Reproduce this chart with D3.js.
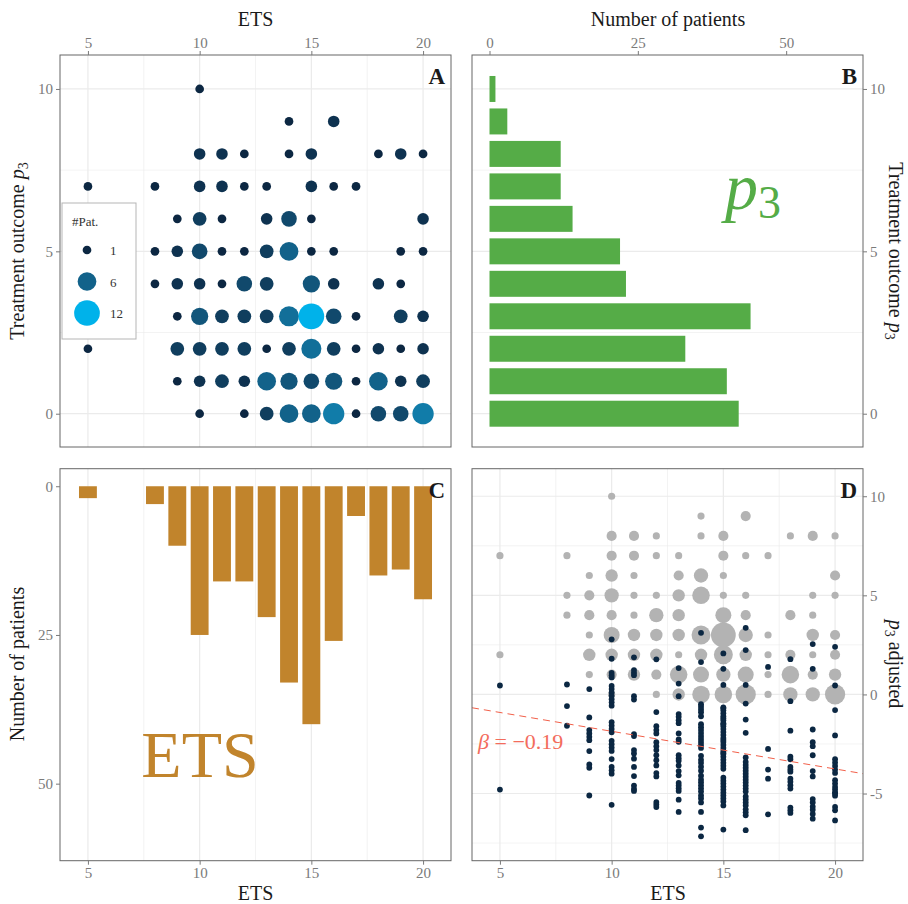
<!DOCTYPE html>
<html>
<head>
<meta charset="utf-8">
<script src="https://cdn.jsdelivr.net/npm/d3@7"></script>
<style>
  body { margin: 0; background: #fff; }
  svg text { font-family: "Liberation Serif", "DejaVu Serif", serif; }
</style>
</head>
<body>
<script>
// ETS categories and the patient count per ETS (panel C)
var etsValues = [5, 8, 9, 10, 11, 12, 13, 14, 15, 16, 17, 18, 19, 20];
var etsCounts = [2, 3, 10, 25, 16, 16, 22, 33, 40, 26, 5, 15, 14, 19];

// treatment outcome p3 and the patient count per value (panel B)
var p3Values = [0, 1, 2, 3, 4, 5, 6, 7, 8, 9, 10];
var p3Counts = [42, 40, 33, 44, 23, 22, 14, 12, 12, 3, 1];

// number of patients per (p3, ETS) cell, one row per p3 value, columns follow etsValues
var cellCounts = [
  [0, 0, 0, 1, 0, 1, 3, 6, 6, 8, 1, 4, 4, 8],
  [0, 0, 1, 2, 3, 2, 6, 5, 4, 5, 1, 6, 2, 3],
  [1, 0, 3, 3, 3, 3, 1, 3, 7, 3, 1, 2, 1, 2],
  [0, 0, 1, 5, 3, 3, 3, 7, 12, 4, 1, 0, 3, 2],
  [0, 1, 2, 2, 1, 4, 3, 0, 5, 2, 0, 2, 1, 0],
  [0, 1, 2, 4, 1, 1, 3, 6, 1, 1, 0, 0, 1, 1],
  [0, 0, 1, 3, 1, 0, 2, 4, 1, 0, 0, 0, 0, 2],
  [1, 1, 0, 2, 2, 1, 1, 0, 2, 1, 1, 0, 0, 0],
  [0, 0, 0, 2, 2, 1, 0, 1, 2, 0, 0, 1, 2, 1],
  [0, 0, 0, 0, 0, 0, 0, 1, 0, 2, 0, 0, 0, 0],
  [0, 0, 0, 1, 0, 0, 0, 0, 0, 0, 0, 0, 0, 0]
];

// adjusted p3 per patient, one list per ETS value (panel D)
var adjustedByEts = [
  [0.45, -4.8],
  [0.5, -0.59, -1.58],
  [0.27, -1.16, -1.8, -1.97, -2.14, -2.31, -2.86, -3.53, -3.7, -5.1],
  [2.78, 1.8, 1.09, 0.97, 0.86, 0.43, 0.27, 0.1, -0.07, -0.24, -0.4, -0.57, -1.4, -1.57, -1.74, -1.91,
   -2.34, -2.51, -2.68, -2.85, -3.26, -3.66, -3.83, -4.0, -5.57],
  [1.87, 1.23, 1.09, 0.97, -0.09, -0.26, -2.0, -2.1, -2.81, -2.98, -3.24, -3.66, -4.12, -4.6, -4.77, -4.87],
  [1.77, -0.89, -1.6, -1.8, -1.97, -2.41, -2.61, -2.81, -3.07, -3.32, -3.58, -3.97, -4.14, -5.43, -5.55, -5.68],
  [1.33, 0.55, -0.09, -0.99, -1.13, -1.3, -1.45, -1.97, -2.27, -2.39, -3.07, -3.22, -3.35, -3.58, -3.87, -4.08,
   -4.47, -4.6, -4.74, -4.87, -5.31, -5.93],
  [3.11, 1.63, -0.49, -0.62, -0.76, -0.9, -1.1, -1.5, -1.65, -1.8, -1.95, -2.1, -2.25, -2.4, -2.55, -2.7,
   -3.1, -3.3, -3.45, -3.65, -3.85, -4.1, -4.3, -4.45, -4.6, -4.75, -4.9, -5.1, -5.25, -5.45, -5.93, -6.72, -7.16],
  [2.07, 1.29, 0.48, -0.65, -0.7, -0.8, -0.95, -1.1, -1.2, -1.3, -1.45, -1.5, -1.6, -1.75, -1.9, -2.05, -2.2,
   -2.3, -2.4, -2.55, -2.7, -2.85, -2.95, -3.0, -3.15, -3.3, -3.45, -3.6, -3.75, -4.2, -4.35, -4.5, -4.65,
   -4.8, -4.95, -5.1, -5.25, -5.4, -5.6, -6.82],
  [3.36, 2.24, 0.48, -0.46, -1.27, -1.94, -3.18, -3.4, -3.55, -3.7, -3.85, -4.0, -4.15, -4.3, -4.45, -4.6,
   -4.75, -4.9, -5.15, -5.3, -5.45, -5.6, -5.8, -5.95, -6.1, -6.85],
  [1.39, -2.75, -3.79, -4.25, -6.05],
  [1.78, -0.34, -1.83, -3.14, -3.27, -3.66, -3.79, -3.9, -4.25, -4.4, -4.58, -4.75, -5.71, -5.84, -5.98],
  [2.54, 1.29, -1.77, -2.41, -2.61, -3.07, -3.87, -4.14, -5.28, -5.45, -5.66, -5.82, -6.03, -6.27],
  [2.4, 0.45, -0.79, -2.07, -3.27, -3.44, -3.61, -3.79, -3.96, -4.33, -4.5, -4.67, -4.8, -4.94, -5.0, -5.11,
   -5.68, -5.85, -6.36]
];

// regression line of panel D
var betaSlope = -0.19;
var betaIntercept = 0.04;

// tick labels
var etsTicks = [5, 10, 15, 20];
var p3Ticks = [0, 5, 10];
var countTicks = [0, 25, 50];
var adjTicks = [-5, 0, 5, 10];
var legendCounts = [1, 6, 12];

var svgWidth = 908;
var svgHeight = 904;
var panelW = 391;
var panelH = 392;

var gridCol = "#ebebeb";
var tickCol = "#7a7a7a";
var borderCol = "#666666";

var svg = d3.select("body")
  .append("svg")
  .attr("width", svgWidth)
  .attr("height", svgHeight);

// scales
var xEts = d3.scaleLinear().domain([3.75, 21.25]).range([0, panelW]);
var yP3 = d3.scaleLinear().domain([-1.025, 11.046]).range([panelH, 0]);
var xCount = d3.scaleLinear().domain([-2.95, 62.95]).range([0, panelW]);
var yCount = d3.scaleLinear().domain([-2.95, 62.95]).range([0, panelH]);
var yAdj = d3.scaleLinear().domain([-8.39, 11.39]).range([panelH, 0]);

var rA = d3.scaleSqrt().domain([0, 12]).range([0.9, 12.85]);
var colA = d3.scaleLinear().domain([1, 12]).range(["#0c2742", "#00b2ea"]).interpolate(d3.interpolateLab);
var rD = d3.scaleSqrt().domain([0, 12]).range([0, 12.4]);

// flat list of cells
var cells = [];
cellCounts.forEach(function(row, i) {
  row.forEach(function(n, j) {
    if (n > 0) cells.push({ets: etsValues[j], p3: p3Values[i], n: n});
  });
});
cells.sort(function(a, b) { return a.n - b.n; });

function vGrid(g, scale, major, minor) {
  minor.forEach(function(v) {
    g.append("line").attr("x1", scale(v)).attr("x2", scale(v)).attr("y1", 0).attr("y2", panelH)
      .attr("stroke", gridCol).attr("stroke-width", 0.6);
  });
  major.forEach(function(v) {
    g.append("line").attr("x1", scale(v)).attr("x2", scale(v)).attr("y1", 0).attr("y2", panelH)
      .attr("stroke", gridCol).attr("stroke-width", 1.2);
  });
}
function hGrid(g, scale, major, minor) {
  minor.forEach(function(v) {
    g.append("line").attr("y1", scale(v)).attr("y2", scale(v)).attr("x1", 0).attr("x2", panelW)
      .attr("stroke", gridCol).attr("stroke-width", 0.6);
  });
  major.forEach(function(v) {
    g.append("line").attr("y1", scale(v)).attr("y2", scale(v)).attr("x1", 0).attr("x2", panelW)
      .attr("stroke", gridCol).attr("stroke-width", 1.2);
  });
}
function border(g) {
  g.append("rect").attr("width", panelW).attr("height", panelH)
    .attr("fill", "none").attr("stroke", borderCol).attr("stroke-width", 1);
}
function styleAxis(a) {
  a.select(".domain").remove();
  a.selectAll(".tick line").attr("stroke", tickCol);
  a.selectAll(".tick text").attr("fill", tickCol).style("font-size", "15px")
    .style("font-family", "Liberation Serif");
}
function panelLabel(g, t) {
  g.append("text").attr("x", panelW - 6).attr("y", 29).attr("text-anchor", "end")
    .style("font-size", "23px").style("font-weight", "bold").attr("fill", "#1a1a1a").text(t);
}

// ---------- panel A ----------
var gA = svg.append("g").attr("transform", "translate(60,55)");
vGrid(gA, xEts, etsTicks, [7.5, 12.5, 17.5]);
hGrid(gA, yP3, p3Ticks, [2.5, 7.5]);

gA.selectAll("circle.cell")
  .data(cells)
  .enter()
  .append("circle")
  .attr("class", "cell")
  .attr("cx", function(d) { return xEts(d.ets); })
  .attr("cy", function(d) { return yP3(d.p3); })
  .attr("r", function(d) { return rA(d.n); })
  .attr("fill", function(d) { return colA(d.n); });

border(gA);
styleAxis(gA.append("g").call(d3.axisTop(xEts).tickValues(etsTicks).tickSize(4).tickPadding(3)));
styleAxis(gA.append("g").call(d3.axisLeft(yP3).tickValues(p3Ticks).tickSize(4).tickPadding(3)));
panelLabel(gA, "A");

// legend
var leg = gA.append("g").attr("transform", "translate(2,148)");
leg.append("rect").attr("width", 74).attr("height", 136).attr("fill", "#fff")
  .attr("stroke", "#b5b5b5").attr("stroke-width", 1);
leg.append("text").attr("x", 10).attr("y", 23).style("font-size", "13px").attr("fill", "#333").text("#Pat.");
legendCounts.forEach(function(n, i) {
  leg.append("circle").attr("cx", 25).attr("cy", 47 + i * 31.5).attr("r", rA(n)).attr("fill", colA(n));
  leg.append("text").attr("x", 48).attr("y", 52 + i * 31.5).style("font-size", "13px").attr("fill", "#333").text(n);
});

// ---------- panel B ----------
var gB = svg.append("g").attr("transform", "translate(472,55)");
hGrid(gB, yP3, p3Ticks, [2.5, 7.5]);
var bandP3 = yP3(0) - yP3(0.8);
gB.selectAll("rect.bar")
  .data(p3Values)
  .enter()
  .append("rect")
  .attr("class", "bar")
  .attr("x", xCount(0))
  .attr("y", function(d) { return yP3(d + 0.4); })
  .attr("width", function(d, i) { return xCount(p3Counts[i]) - xCount(0); })
  .attr("height", bandP3)
  .attr("fill", "#55ac47");
border(gB);
styleAxis(gB.append("g").call(d3.axisTop(xCount).tickValues(countTicks).tickSize(4).tickPadding(3)));
styleAxis(gB.append("g").attr("transform", "translate(" + panelW + ",0)")
  .call(d3.axisRight(yP3).tickValues(p3Ticks).tickSize(4).tickPadding(3)));
panelLabel(gB, "B");
var bigP = gB.append("text").attr("x", 253).attr("y", 154).attr("fill", "#55ac47");
bigP.append("tspan").style("font-size", "66px").style("font-style", "italic").text("p");
bigP.append("tspan").style("font-size", "46px").attr("dy", 9).text("3");

// ---------- panel C ----------
var gC = svg.append("g").attr("transform", "translate(60,468.7)");
vGrid(gC, xEts, etsTicks, [7.5, 12.5, 17.5]);
var bandEts = xEts(0.8) - xEts(0);
gC.selectAll("rect.bar")
  .data(etsValues)
  .enter()
  .append("rect")
  .attr("class", "bar")
  .attr("x", function(d) { return xEts(d - 0.4); })
  .attr("y", yCount(0))
  .attr("width", bandEts)
  .attr("height", function(d, i) { return yCount(etsCounts[i]) - yCount(0); })
  .attr("fill", "#c1842c");
border(gC);
styleAxis(gC.append("g").attr("transform", "translate(0," + panelH + ")")
  .call(d3.axisBottom(xEts).tickValues(etsTicks).tickSize(4).tickPadding(3)));
styleAxis(gC.append("g").call(d3.axisLeft(yCount).tickValues(countTicks).tickSize(4).tickPadding(3)));
panelLabel(gC, "C");
gC.append("text").attr("x", 140).attr("y", 308).attr("text-anchor", "middle")
  .style("font-size", "66px").attr("fill", "#c1842c").text("ETS");

// ---------- panel D ----------
var gD = svg.append("g").attr("transform", "translate(472,468.7)");
vGrid(gD, xEts, etsTicks, [7.5, 12.5, 17.5]);
hGrid(gD, yAdj, adjTicks, [-7.5, -2.5, 2.5, 7.5]);

gD.selectAll("circle.grey")
  .data(cells)
  .enter()
  .append("circle")
  .attr("class", "grey")
  .attr("cx", function(d) { return xEts(d.ets); })
  .attr("cy", function(d) { return yAdj(d.p3); })
  .attr("r", function(d) { return rD(d.n); })
  .attr("fill", "#b3b3b3");

var adjPoints = [];
adjustedByEts.forEach(function(list, j) {
  list.forEach(function(v) { adjPoints.push({ets: etsValues[j], v: v}); });
});
gD.selectAll("circle.adj")
  .data(adjPoints)
  .enter()
  .append("circle")
  .attr("class", "adj")
  .attr("cx", function(d) { return xEts(d.ets); })
  .attr("cy", function(d) { return yAdj(d.v); })
  .attr("r", 2.9)
  .attr("fill", "#0b2742");

var xl = xEts.domain();
gD.append("line")
  .attr("x1", xEts(xl[0])).attr("y1", yAdj(betaIntercept + betaSlope * xl[0]))
  .attr("x2", xEts(xl[1])).attr("y2", yAdj(betaIntercept + betaSlope * xl[1]))
  .attr("stroke", "#f2604a").attr("stroke-width", 1).attr("stroke-dasharray", "7,5");
var bt = gD.append("text").attr("x", 6).attr("y", 280).attr("fill", "#f36c5c").style("font-size", "22px");
bt.append("tspan").style("font-style", "italic").text("β");
bt.append("tspan").text(" = −0.19");

border(gD);
styleAxis(gD.append("g").attr("transform", "translate(0," + panelH + ")")
  .call(d3.axisBottom(xEts).tickValues(etsTicks).tickSize(4).tickPadding(3)));
styleAxis(gD.append("g").attr("transform", "translate(" + panelW + ",0)")
  .call(d3.axisRight(yAdj).tickValues(adjTicks).tickSize(4).tickPadding(3)
    .tickFormat(function(d) { return d < 0 ? "-" + Math.abs(d) : d; })));
panelLabel(gD, "D");

// ---------- axis titles ----------
// parts: t = text, i = italic, small = subscript size, dy = baseline shift
function title(x, y, rot, parts) {
  var t = svg.append("text")
    .attr("transform", "translate(" + x + "," + y + ") rotate(" + rot + ")")
    .attr("text-anchor", "middle").style("font-size", "20px").attr("fill", "#1a1a1a");
  parts.forEach(function(p) {
    var s = t.append("tspan").text(p.t);
    if (p.i) s.style("font-style", "italic");
    if (p.small) s.style("font-size", "14px");
    if (p.dy) s.attr("dy", p.dy);
  });
}
title(255.5, 26, 0, [{t: "ETS"}]);
title(668, 26, 0, [{t: "Number of patients"}]);
title(255.5, 900, 0, [{t: "ETS"}]);
title(668, 900, 0, [{t: "ETS"}]);
title(24, 251, -90, [{t: "Treatment outcome "}, {t: "p", i: true}, {t: "3", small: true, dy: 4}]);
title(24, 664, -90, [{t: "Number of patients"}]);
title(889, 251, 90, [{t: "Treatment outcome "}, {t: "p", i: true}, {t: "3", small: true, dy: 4}]);
title(889, 664, 90, [{t: "p", i: true}, {t: "3", small: true, dy: 4}, {t: " adjusted", dy: -4}]);
</script>
</body>
</html>
